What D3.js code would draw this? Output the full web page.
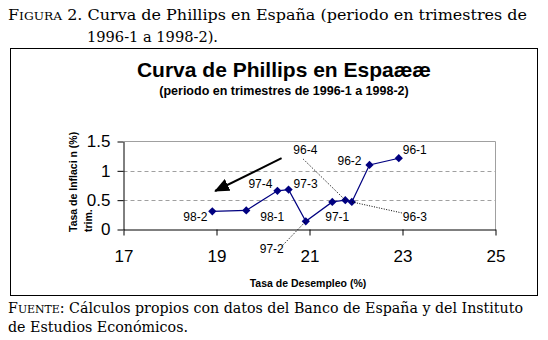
<!DOCTYPE html>
<html>
<head>
<meta charset="utf-8">
<script src="https://cdn.jsdelivr.net/npm/d3@7"></script>
<style>
  html, body { margin: 0; padding: 0; background: #fff; }
  svg { display: block; }
</style>
</head>
<body>
<div id="chart"></div>
<script>
// ---- data ----
const labels = ["96-1", "96-2", "96-3", "96-4", "97-1", "97-2", "97-3", "97-4", "98-1", "98-2"];
const unemployment = [22.92, 22.29, 21.91, 21.77, 21.49, 20.92, 20.55, 20.31, 19.64, 18.91];
const inflation = [1.215, 1.10, 0.47, 0.50, 0.47, 0.14, 0.68, 0.66, 0.325, 0.31];
const xTicks = [17, 19, 21, 23, 25];
const yTicks = [0, 0.5, 1, 1.5];
const gridTicks = [0.5, 1];
// arrow annotation (data units): start and tip
const arrowX = [20.40, 18.97];
const arrowY = [1.216, 0.656];

// ---- label placement (pixels relative to point) ----
const labelDx = [16, -20, 63, -40, 5, -34, 17, -17, 26, -17];
const labelDy = [-4, 0, 19, -46, 19, 32, -2, -3, 11, 10];
// leader line start relative to label anchor (null = no leader)
const leaderFrom = [null, null, [-13, -8], [-2, 5], null, [10, -7], null, null, null, null];

const W = 548, H = 340;
const svg = d3.select("#chart").append("svg")
  .attr("width", W).attr("height", H)
  .style("font-family", "Arial, 'Liberation Sans', sans-serif");

// ---- header (serif, small caps) ----
const serif = "'DejaVu Serif', 'Liberation Serif', serif";
const hs = 15, sc = 11.5;
const h1 = svg.append("text").attr("x", 8).attr("y", 20)
  .attr("font-family", serif).attr("font-size", hs).attr("fill", "#000")
  .attr("textLength", 519).attr("lengthAdjust", "spacingAndGlyphs");
h1.append("tspan").text("F");
h1.append("tspan").attr("font-size", sc).text("IGURA");
h1.append("tspan").text(" 2. Curva de Phillips en España (periodo en trimestres de");
svg.append("text").attr("x", 87).attr("y", 42)
  .attr("font-family", serif).attr("font-size", hs).attr("fill", "#000")
  .attr("textLength", 131).attr("lengthAdjust", "spacingAndGlyphs")
  .text("1996-1 a 1998-2).");

// ---- footer ----
const f1 = svg.append("text").attr("x", 8).attr("y", 313)
  .attr("font-family", serif).attr("font-size", hs).attr("fill", "#000")
  .attr("textLength", 515).attr("lengthAdjust", "spacingAndGlyphs");
f1.append("tspan").text("F");
f1.append("tspan").attr("font-size", sc).text("UENTE");
f1.append("tspan").text(": Cálculos propios con datos del Banco de España y del Instituto");
svg.append("text").attr("x", 8).attr("y", 332)
  .attr("font-family", serif).attr("font-size", hs).attr("fill", "#000")
  .attr("textLength", 180).attr("lengthAdjust", "spacingAndGlyphs")
  .text("de Estudios Económicos.");

// ---- chart frame ----
svg.append("rect").attr("x", 10.5).attr("y", 48.5).attr("width", 527).attr("height", 247)
  .attr("fill", "#fff").attr("stroke", "#000").attr("stroke-width", 1);

// ---- titles ----
svg.append("text").attr("x", 284).attr("y", 77).attr("text-anchor", "middle")
  .attr("font-size", 21).attr("font-weight", "bold").attr("fill", "#000")
  .text("Curva de Phillips en Espaææ");
svg.append("text").attr("x", 284).attr("y", 95).attr("text-anchor", "middle")
  .attr("font-size", 12.5).attr("font-weight", "bold").attr("fill", "#000")
  .text("(periodo en trimestres de 1996-1 a 1998-2)");

// ---- scales ----
const x = d3.scaleLinear().domain([17, 25]).range([123.5, 495.5]);
const y = d3.scaleLinear().domain([0, 1.5]).range([229.5, 141.5]);

// gridlines
svg.append("g").selectAll("line").data(gridTicks).join("line")
  .attr("x1", x(17)).attr("x2", x(25))
  .attr("y1", d => Math.round(y(d)) + 0.5).attr("y2", d => Math.round(y(d)) + 0.5)
  .attr("stroke", "#a0a0a0").attr("stroke-dasharray", "4,3");

// plot area border (top + right)
svg.append("path")
  .attr("d", `M${x(17)},${y(1.5)}H${x(25)}V${y(0)}`)
  .attr("fill", "none").attr("stroke", "#a0a0a0");

// axes
const xAxis = svg.append("g").attr("transform", `translate(0,${y(0)})`)
  .call(d3.axisBottom(x).tickValues(xTicks).tickSize(6).tickSizeOuter(0).tickFormat(d3.format("d")));
xAxis.selectAll("text").attr("dy", 0).attr("y", 32.5).attr("font-size", 17)
  .attr("font-family", "Arial, 'Liberation Sans', sans-serif").attr("fill", "#000");
xAxis.selectAll("line, path").attr("stroke", "#000");

const yAxis = svg.append("g").attr("transform", `translate(${x(17)},0)`)
  .call(d3.axisLeft(y).tickValues(yTicks).tickSize(6).tickSizeOuter(0).tickPadding(7).tickFormat(d => d3.format("")(d)));
yAxis.selectAll("text").attr("font-size", 17)
  .attr("font-family", "Arial, 'Liberation Sans', sans-serif").attr("fill", "#000");
yAxis.selectAll("line, path").attr("stroke", "#000");

// axis titles
svg.append("text").attr("x", 308).attr("y", 287).attr("text-anchor", "middle")
  .attr("font-size", 10.5).attr("font-weight", "bold").attr("fill", "#000")
  .text("Tasa de Desempleo (%)");
const yt = svg.append("g").attr("font-size", 10.5).attr("font-weight", "bold").attr("fill", "#000");
yt.append("text").attr("transform", "translate(77,232) rotate(-90)").text("Tasa de Inflaci n (%)");
yt.append("text").attr("transform", "translate(92,232) rotate(-90)").text("trim.");

// ---- series ----
const pts = labels.map((l, i) => ({ l, x: unemployment[i], y: inflation[i], i }));
svg.append("path").datum(pts)
  .attr("d", d3.line().x(d => x(d.x)).y(d => y(d.y)))
  .attr("fill", "none").attr("stroke", "#000080").attr("stroke-width", 1.2);

svg.append("g").selectAll("path").data(pts).join("path")
  .attr("d", d3.symbol(d3.symbolSquare, 34)())
  .attr("transform", d => `translate(${x(d.x)},${y(d.y)}) rotate(45)`)
  .attr("fill", "#000080");

// leader lines
svg.append("g").selectAll("line").data(pts.filter(d => leaderFrom[d.i])).join("line")
  .attr("x1", d => x(d.x) + labelDx[d.i] + leaderFrom[d.i][0])
  .attr("y1", d => y(d.y) + labelDy[d.i] + leaderFrom[d.i][1])
  .attr("x2", d => x(d.x)).attr("y2", d => y(d.y))
  .attr("stroke", "#000").attr("stroke-width", 1).attr("stroke-dasharray", "1,1.5");

// labels
svg.append("g").selectAll("text").data(pts).join("text")
  .attr("x", d => x(d.x) + labelDx[d.i])
  .attr("y", d => y(d.y) + labelDy[d.i])
  .attr("text-anchor", "middle").attr("font-size", 12).attr("fill", "#000")
  .text(d => d.l);

// ---- arrow ----
const defs = svg.append("defs");
defs.append("marker").attr("id", "ah").attr("markerUnits", "userSpaceOnUse")
  .attr("viewBox", "0 -7 15 14").attr("refX", 14).attr("refY", 0)
  .attr("markerWidth", 15).attr("markerHeight", 14).attr("orient", "auto")
  .append("path").attr("d", "M0,-6.5L15,0L0,6.5Z").attr("fill", "#000");
svg.append("line")
  .attr("x1", x(arrowX[0])).attr("y1", y(arrowY[0]))
  .attr("x2", x(arrowX[1])).attr("y2", y(arrowY[1]))
  .attr("stroke", "#000").attr("stroke-width", 2).attr("marker-end", "url(#ah)");
</script>
</body>
</html>
